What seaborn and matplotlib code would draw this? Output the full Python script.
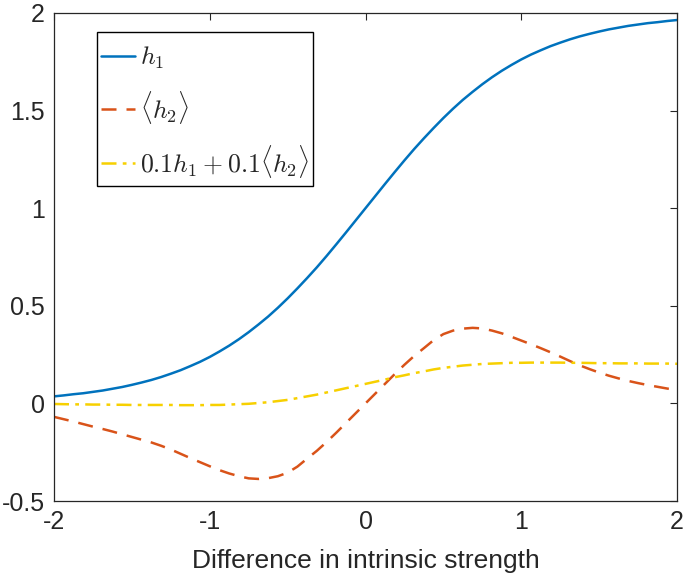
import numpy as np
import pandas as pd
import matplotlib
matplotlib.use("Agg")
import matplotlib.pyplot as plt
from matplotlib.patches import Rectangle
import seaborn as sns

# values (x step 0.0625)
x_vals = [-2.0, -1.9375, -1.875, -1.8125, -1.75, -1.6875, -1.625, -1.5625,
          -1.5, -1.4375, -1.375, -1.3125, -1.25, -1.1875, -1.125, -1.0625,
          -1.0, -0.9375, -0.875, -0.8125, -0.75, -0.6875, -0.625, -0.5625,
          -0.5, -0.4375, -0.375, -0.3125, -0.25, -0.1875, -0.125, -0.0625,
          0.0, 0.0625, 0.125, 0.1875, 0.25, 0.3125, 0.375, 0.4375,
          0.5, 0.5625, 0.625, 0.6875, 0.75, 0.8125, 0.875, 0.9375,
          1.0, 1.0625, 1.125, 1.1875, 1.25, 1.3125, 1.375, 1.4375,
          1.5, 1.5625, 1.625, 1.6875, 1.75, 1.8125, 1.875, 1.9375, 2.0]

h1 = [0.036, 0.041, 0.047, 0.052, 0.059, 0.066, 0.075, 0.084,
      0.095, 0.107, 0.120, 0.135, 0.152, 0.170, 0.191, 0.213,
      0.238, 0.266, 0.296, 0.329, 0.365, 0.404, 0.445, 0.490,
      0.538, 0.589, 0.642, 0.697, 0.755, 0.815, 0.876, 0.938,
      1.000, 1.062, 1.124, 1.185, 1.245, 1.303, 1.358, 1.411,
      1.462, 1.510, 1.555, 1.596, 1.635, 1.671, 1.704, 1.734,
      1.762, 1.787, 1.809, 1.830, 1.848, 1.865, 1.880, 1.893,
      1.905, 1.916, 1.925, 1.934, 1.941, 1.948, 1.953, 1.959, 1.964]

h2 = [-0.069, -0.081, -0.093, -0.106, -0.119, -0.131, -0.144, -0.158,
      -0.172, -0.186, -0.200, -0.217, -0.236, -0.258, -0.280, -0.301,
      -0.322, -0.342, -0.359, -0.373, -0.384, -0.387, -0.383, -0.373,
      -0.355, -0.324, -0.283, -0.243, -0.198, -0.150, -0.100, -0.050,
      0.000, 0.050, 0.100, 0.150, 0.198, 0.243, 0.283, 0.324,
      0.355, 0.373, 0.383, 0.387, 0.384, 0.373, 0.359, 0.341,
      0.322, 0.303, 0.283, 0.262, 0.240, 0.217, 0.195, 0.176,
      0.158, 0.142, 0.128, 0.115, 0.104, 0.094, 0.085, 0.076, 0.068]

mix = [-0.003, -0.004, -0.005, -0.005, -0.006, -0.006, -0.007, -0.007,
       -0.008, -0.008, -0.008, -0.008, -0.008, -0.009, -0.009, -0.009,
       -0.008, -0.008, -0.006, -0.004, -0.002, 0.002, 0.006, 0.012,
       0.018, 0.027, 0.036, 0.045, 0.056, 0.067, 0.078, 0.089,
       0.100, 0.111, 0.122, 0.134, 0.144, 0.155, 0.164, 0.174,
       0.182, 0.188, 0.194, 0.198, 0.202, 0.204, 0.206, 0.208,
       0.208, 0.209, 0.209, 0.209, 0.209, 0.208, 0.208, 0.207,
       0.206, 0.206, 0.205, 0.205, 0.205, 0.204, 0.204, 0.204, 0.203]

labels = [r"$h_1$", r"$\langle h_2\rangle$", r"$0.1h_1+0.1\langle h_2\rangle$"]
x_ticks = [-2, -1, 0, 1, 2]
y_ticks = [-0.5, 0, 0.5, 1, 1.5, 2]
y_tick_labels = ["-0.5", "0", "0.5", "1", "1.5", "2"]

sns.set_style("white")
plt.rcParams["font.family"] = ["Liberation Sans", "DejaVu Sans"]
plt.rcParams["mathtext.fontset"] = "cm"

df = pd.DataFrame({"x": x_vals, "h1": h1, "h2": h2, "mix": mix})

fig = plt.figure(figsize=(6.85, 5.82), dpi=100)
ax = fig.add_axes([54 / 685, 1 - 501 / 582, 623 / 685, 488 / 582])

sns.lineplot(data=df, x="x", y="h1", ax=ax, color="#0072BD", lw=1.8, label=labels[0])
sns.lineplot(data=df, x="x", y="h2", ax=ax, color="#D95319", lw=1.8, label=labels[1])
ax.lines[-1].set_dashes([6, 4])
sns.lineplot(data=df, x="x", y="mix", ax=ax, color="#F7D000", lw=1.8, label=labels[2])
ax.lines[-1].set_dashes([6, 2.5, 1.5, 2.5])

ax.set_xlim(-2, 2)
ax.set_ylim(-0.5, 2)
ax.set_xticks(x_ticks)
ax.set_xticklabels([str(t) for t in x_ticks])
ax.set_yticks(y_ticks)
ax.set_yticklabels(y_tick_labels)
ax.tick_params(direction="in", length=5, width=0.8, top=True, right=True,
               labelsize=18, colors="#262626", pad=6.5)
for sp in ax.spines.values():
    sp.set_visible(True)
    sp.set_color("#262626")
    sp.set_linewidth(0.9)
ax.set_xlabel("Difference in intrinsic strength", fontsize=19, labelpad=11)
ax.set_ylabel("")

# legend: MATLAB-style box, drawn as its own rectangle
ax.add_patch(Rectangle((0.069, 0.645), 0.347, 0.316, transform=ax.transAxes,
                       facecolor="white", edgecolor="black", lw=1.0, zorder=4))
leg = ax.legend(loc="upper left", bbox_to_anchor=(0.076, 0.935), fontsize=18.5,
                frameon=False, handlelength=1.3, handletextpad=0.2,
                labelspacing=0.68, borderpad=0.0, borderaxespad=0)
leg.set_zorder(5)

fig.savefig("out.png", dpi=100)
